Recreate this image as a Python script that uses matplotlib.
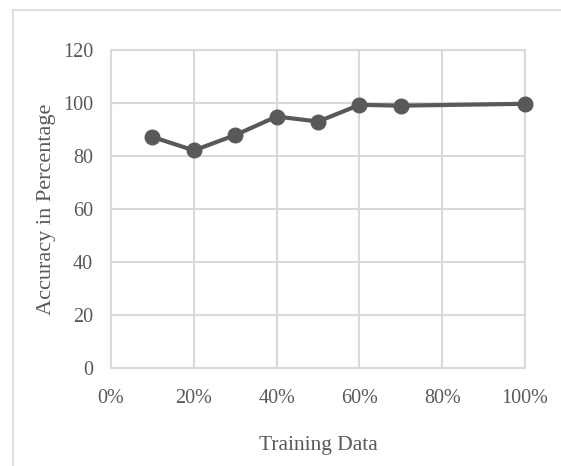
import matplotlib.pyplot as plt
from matplotlib.lines import Line2D
from matplotlib.ticker import PercentFormatter

# training share (%) vs accuracy (%)
train_pct = [10, 20, 30, 40, 50, 60, 70, 100]
accuracy = [87.2, 82.1, 87.9, 94.9, 93.0, 99.3, 99.0, 99.7]

x_ticks = [0, 20, 40, 60, 80, 100]
y_ticks = [0, 20, 40, 60, 80, 100, 120]

plt.rcParams['font.family'] = ['Liberation Serif', 'DejaVu Serif']

text_color = "#595959"
grid_color = "#d9d9d9"
line_color = "#595959"

fig = plt.figure(figsize=(5.61, 4.66), dpi=100)
ax = fig.add_axes([0.198, 0.2103, 0.738, 0.6824])

ax.plot(train_pct, accuracy, color=line_color, linewidth=3,
        marker="o", markersize=10.5, zorder=3, clip_on=False)

ax.set_xlim(0, 100)
ax.set_ylim(0, 120)
ax.set_xticks(x_ticks)
ax.set_yticks(y_ticks)
ax.xaxis.set_major_formatter(PercentFormatter(decimals=0))

ax.grid(True, color=grid_color, linewidth=1.5)
ax.set_axisbelow(True)
for side in ax.spines.values():
    side.set_color(grid_color)
    side.set_linewidth(1.5)

ax.tick_params(length=0, labelsize=14.5, colors=text_color)
ax.tick_params(axis="x", pad=15)
ax.tick_params(axis="y", pad=13)

ax.set_xlabel("Training Data", fontsize=15.5, color=text_color, labelpad=20)
ax.set_ylabel("Accuracy in Percentage", fontsize=16, color=text_color, labelpad=5)

# chart-area border (top and left edges)
fig.add_artist(Line2D([13 / 561, 1], [1 - 10 / 466, 1 - 10 / 466],
                      color=grid_color, linewidth=1.2, transform=fig.transFigure))
fig.add_artist(Line2D([13 / 561, 13 / 561], [0, 1 - 10 / 466],
                      color=grid_color, linewidth=1.2, transform=fig.transFigure))

fig.savefig("out.png", dpi=100)
